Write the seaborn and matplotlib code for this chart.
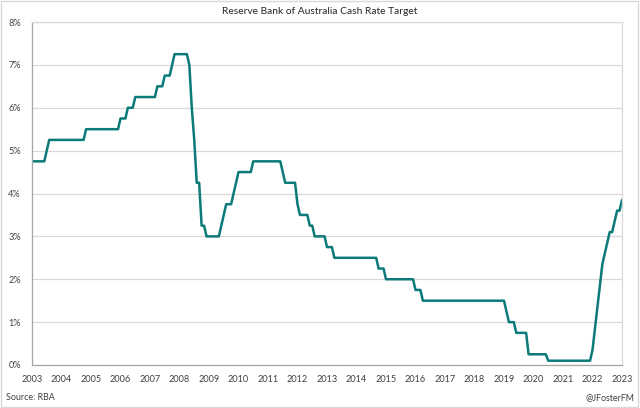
import matplotlib
matplotlib.use("Agg")
import matplotlib.pyplot as plt
import seaborn as sns
import pandas as pd
from matplotlib.patches import Rectangle

# Monthly cash rate target (value at start of month), Jun 2003 - Jun 2023
rate_2003 = [4.75, 4.75, 4.75, 4.75, 4.75, 4.75, 5.00]  # Jun-Dec
rate_2004 = [5.25] * 12
rate_2005 = [5.25, 5.25, 5.25, 5.50, 5.50, 5.50, 5.50, 5.50, 5.50, 5.50, 5.50, 5.50]
rate_2006 = [5.50, 5.50, 5.50, 5.50, 5.50, 5.75, 5.75, 5.75, 6.00, 6.00, 6.00, 6.25]
rate_2007 = [6.25, 6.25, 6.25, 6.25, 6.25, 6.25, 6.25, 6.25, 6.50, 6.50, 6.50, 6.75]
rate_2008 = [6.75, 6.75, 7.00, 7.25, 7.25, 7.25, 7.25, 7.25, 7.25, 7.00, 6.00, 5.25]
rate_2009 = [4.25, 4.25, 3.25, 3.25, 3.00, 3.00, 3.00, 3.00, 3.00, 3.00, 3.25, 3.50]
rate_2010 = [3.75, 3.75, 3.75, 4.00, 4.25, 4.50, 4.50, 4.50, 4.50, 4.50, 4.50, 4.75]
rate_2011 = [4.75, 4.75, 4.75, 4.75, 4.75, 4.75, 4.75, 4.75, 4.75, 4.75, 4.75, 4.50]
rate_2012 = [4.25, 4.25, 4.25, 4.25, 4.25, 3.75, 3.50, 3.50, 3.50, 3.50, 3.25, 3.25]
rate_2013 = [3.00, 3.00, 3.00, 3.00, 3.00, 2.75, 2.75, 2.75, 2.50, 2.50, 2.50, 2.50]
rate_2014 = [2.50] * 12
rate_2015 = [2.50, 2.50, 2.25, 2.25, 2.25, 2.00, 2.00, 2.00, 2.00, 2.00, 2.00, 2.00]
rate_2016 = [2.00, 2.00, 2.00, 2.00, 2.00, 1.75, 1.75, 1.75, 1.50, 1.50, 1.50, 1.50]
rate_2017 = [1.50] * 12
rate_2018 = [1.50] * 12
rate_2019 = [1.50, 1.50, 1.50, 1.50, 1.50, 1.50, 1.25, 1.00, 1.00, 1.00, 0.75, 0.75]
rate_2020 = [0.75, 0.75, 0.75, 0.25, 0.25, 0.25, 0.25, 0.25, 0.25, 0.25, 0.25, 0.10]
rate_2021 = [0.10] * 12
rate_2022 = [0.10, 0.10, 0.10, 0.10, 0.10, 0.35, 0.85, 1.35, 1.85, 2.35, 2.60, 2.85]
rate_2023 = [3.10, 3.10, 3.35, 3.60, 3.60, 3.85]  # Jan-Jun

rates = (rate_2003 + rate_2004 + rate_2005 + rate_2006 + rate_2007 + rate_2008 +
         rate_2009 + rate_2010 + rate_2011 + rate_2012 + rate_2013 + rate_2014 +
         rate_2015 + rate_2016 + rate_2017 + rate_2018 + rate_2019 + rate_2020 +
         rate_2021 + rate_2022 + rate_2023)

year_labels = [str(y) for y in range(2003, 2024)]
y_labels = ["0%", "1%", "2%", "3%", "4%", "5%", "6%", "7%", "8%"]

df = pd.DataFrame({"month": range(len(rates)), "rate": rates})

sns.set_theme(style="white")
plt.rcParams["font.family"] = ["Lato", "DejaVu Sans"]

fig = plt.figure(figsize=(6.4, 4.08), dpi=100)
ax = fig.add_axes([32 / 640, 43 / 408, 590 / 640, 343 / 408])

sns.lineplot(data=df, x="month", y="rate", ax=ax, color="#0B7A78", linewidth=1.8)

ax.set_xlim(0, len(rates) - 1)
ax.set_ylim(0, 8)
ax.set_xticks(range(0, len(rates), 12))
ax.set_xticklabels(year_labels)
ax.set_yticks(range(0, 9))
ax.set_yticklabels(y_labels)
ax.set_xlabel("")
ax.set_ylabel("")
ax.tick_params(axis="both", length=0, labelsize=6.6, colors="#404040")
ax.tick_params(axis="x", pad=7)
ax.tick_params(axis="y", pad=8)
ax.grid(axis="y", color="#D9D9D9", linewidth=0.9)
ax.grid(axis="x", visible=False)
for side in ["top", "right"]:
    ax.spines[side].set_color("#D9D9D9")
    ax.spines[side].set_linewidth(0.9)
for side in ["left", "bottom"]:
    ax.spines[side].set_color("#A6A6A6")
    ax.spines[side].set_linewidth(0.9)

fig.text(0.5, 1 - 12 / 408, "Reserve Bank of Australia Cash Rate Target",
         ha="center", va="center", fontsize=7.4, color="#262626")
fig.text(6 / 640, 1 - 398 / 408, "Source: RBA", ha="left", va="center",
         fontsize=6.4, color="#404040")
fig.text(634 / 640, 1 - 398 / 408, "@JFosterFM", ha="right", va="center",
         fontsize=6.4, color="#404040")

fig.patches.append(Rectangle((0.002, 0.003), 0.995, 0.994, transform=fig.transFigure,
                             fill=False, edgecolor="#D9D9D9", linewidth=1.0))

fig.savefig("out.png", dpi=100)
